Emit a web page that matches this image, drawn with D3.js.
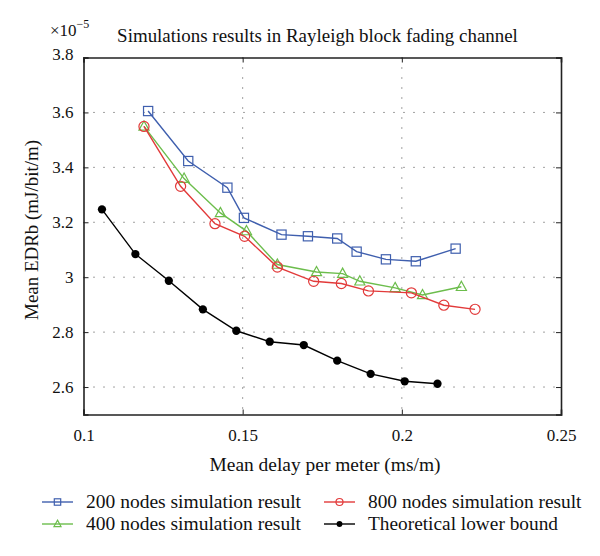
<!DOCTYPE html>
<html><head><meta charset="utf-8">
<script src="https://cdn.jsdelivr.net/npm/d3@7"></script>
<style>body{margin:0;background:#fff;}</style>
</head><body><svg id="c" width="600" height="556"></svg>
<script>
const xTicks=[0.1,0.15,0.2,0.25];
const yTicks=[2.6,2.8,3.0,3.2,3.4,3.6,3.8];
const yTickLabels=["2.6","2.8","3","3.2","3.4","3.6","3.8"];
const s200x=[0.1203,0.1329,0.1452,0.1504,0.1622,0.1705,0.1797,0.1858,0.1950,0.2044,0.2169];
const s200y=[3.605,3.423,3.326,3.216,3.155,3.149,3.141,3.093,3.065,3.058,3.104];
const s400x=[0.1190,0.1316,0.1430,0.1512,0.1609,0.1732,0.1814,0.1868,0.1979,0.2065,0.2187];
const s400y=[3.549,3.359,3.234,3.168,3.046,3.019,3.013,2.985,2.961,2.935,2.965];
const s800x=[0.1190,0.1305,0.1413,0.1506,0.1609,0.1723,0.1810,0.1895,0.2030,0.2132,0.2230];
const s800y=[3.549,3.331,3.195,3.149,3.037,2.985,2.977,2.950,2.943,2.898,2.883];
const lbx=[0.1058,0.1163,0.1268,0.1375,0.1480,0.1585,0.1692,0.1797,0.1902,0.2009,0.2112];
const lby=[3.247,3.084,2.987,2.883,2.805,2.765,2.753,2.696,2.648,2.621,2.612];
const names=["200 nodes simulation result","400 nodes simulation result","800 nodes simulation result","Theoretical lower bound"];
const colors=["#3f5fae","#6cbd4c","#e23a3a","#000000"];
const markers=["square","triangle","circle","dot"];

const FONT='"Liberation Serif","Times New Roman",serif';
const svg=d3.select("#c");
const L=83.5,R=561,T=57.5,B=414.5;
const x=d3.scaleLinear().domain([0.1,0.25]).range([L,R]);
const y=d3.scaleLinear().domain([2.5,3.8]).range([B,T]);

function fitText(sel,base,target){
  sel.style("font-family",FONT).style("font-size",base+"px");
  const w=sel.node().getComputedTextLength();
  sel.style("font-size",(base*target/w).toFixed(2)+"px");
  return sel;
}

// grid
const g=svg.append("g");
g.selectAll(".vg").data(xTicks.slice(1,-1)).enter().append("line")
 .attr("x1",d=>x(d)).attr("x2",d=>x(d)).attr("y1",T).attr("y2",B)
 .attr("stroke","#444").attr("stroke-width",1).attr("stroke-dasharray","1,9");
g.selectAll(".hg").data(yTicks.slice(0,-1)).enter().append("line")
 .attr("x1",L).attr("x2",R).attr("y1",d=>y(d)).attr("y2",d=>y(d))
 .attr("stroke","#444").attr("stroke-width",1).attr("stroke-dasharray","1,9");

// axes
const fmtY=d=>yTickLabels[yTicks.indexOf(d)];
const ax=svg.append("g").attr("transform",`translate(0,${B})`).call(d3.axisBottom(x).tickValues(xTicks).tickSize(-5).tickPadding(14).tickFormat(d=>String(d)));
const ay=svg.append("g").attr("transform",`translate(${L},0)`).call(d3.axisLeft(y).tickValues(yTicks).tickSize(-5).tickPadding(10).tickFormat(fmtY));
const at=svg.append("g").attr("transform",`translate(0,${T})`).call(d3.axisTop(x).tickValues(xTicks).tickSize(-5).tickFormat(""));
const ar=svg.append("g").attr("transform",`translate(${R},0)`).call(d3.axisRight(y).tickValues(yTicks).tickSize(-5).tickFormat(""));
[ax,ay,at,ar].forEach(a=>{
  a.attr("font-family",FONT).attr("font-size",17);
  a.select(".domain").attr("stroke","#222").attr("stroke-width",1.6);
  a.selectAll(".tick line").attr("stroke","#222");
  a.selectAll("text").attr("fill","#111").style("font-family",FONT).style("font-size","17px");
});
ay.selectAll(".tick").filter(d=>d===3.8).select("text").attr("dy","0.1em");

// series
const series=[[s200x,s200y],[s400x,s400y],[s800x,s800y],[lbx,lby]];
const line=d3.line().x(d=>x(d[0])).y(d=>y(d[1]));
function drawMarker(sel,type,color,cx,cy,s){
  if(type==="square") sel.append("rect").attr("x",cx-s).attr("y",cy-s).attr("width",2*s).attr("height",2*s).attr("fill","none").attr("stroke",color).attr("stroke-width",1.2);
  else if(type==="circle") sel.append("circle").attr("cx",cx).attr("cy",cy).attr("r",s*1.1).attr("fill","none").attr("stroke",color).attr("stroke-width",1.2);
  else if(type==="triangle") sel.append("path").attr("d",`M${cx},${cy-s*1.2}L${cx+s*1.1},${cy+s*0.8}L${cx-s*1.1},${cy+s*0.8}Z`).attr("fill","none").attr("stroke",color).attr("stroke-width",1.2);
  else sel.append("circle").attr("cx",cx).attr("cy",cy).attr("r",s*0.9).attr("fill",color);
}
const order=[3,0,1,2];
order.forEach(i=>{
  const pts=series[i][0].map((v,k)=>[v,series[i][1][k]]);
  const gg=svg.append("g");
  gg.append("path").attr("d",line(pts)).attr("fill","none").attr("stroke",colors[i]).attr("stroke-width",1.4);
  pts.forEach(p=>drawMarker(gg,markers[i],colors[i],x(p[0]),y(p[1]),4.6));
});

// texts
fitText(svg.append("text").attr("x",317.5).attr("y",42).attr("text-anchor","middle").attr("fill","#111").text("Simulations results in Rayleigh block fading channel"),18,401);
const m=svg.append("text").attr("x",50).attr("y",36).attr("fill","#111").style("font-family",FONT).style("font-size","17px");
m.append("tspan").text("×10");
m.append("tspan").attr("dy",-8).style("font-size","12px").text("−5");
fitText(svg.append("text").attr("x",325).attr("y",471).attr("text-anchor","middle").attr("fill","#111").text("Mean delay per meter (ms/m)"),18,231);
fitText(svg.append("text").attr("transform","translate(38,230) rotate(-90)").attr("text-anchor","middle").attr("fill","#111").text("Mean EDRb (mJ/bit/m)"),18,180);

// legend
const leg=[{i:0,x:42,y:502,w:215},{i:1,x:42,y:524,w:215},{i:2,x:324,y:502,w:213.5},{i:3,x:324,y:524,w:190}];
leg.forEach(o=>{
  const gg=svg.append("g");
  gg.append("line").attr("x1",o.x).attr("x2",o.x+31).attr("y1",o.y).attr("y2",o.y).attr("stroke",colors[o.i]).attr("stroke-width",1.4);
  drawMarker(gg,markers[o.i],colors[o.i],o.x+15.5,o.y,3.2);
  fitText(gg.append("text").attr("x",o.x+44).attr("y",o.y+5.5).attr("fill","#111").text(names[o.i]),18,o.w);
});
</script></body></html>
